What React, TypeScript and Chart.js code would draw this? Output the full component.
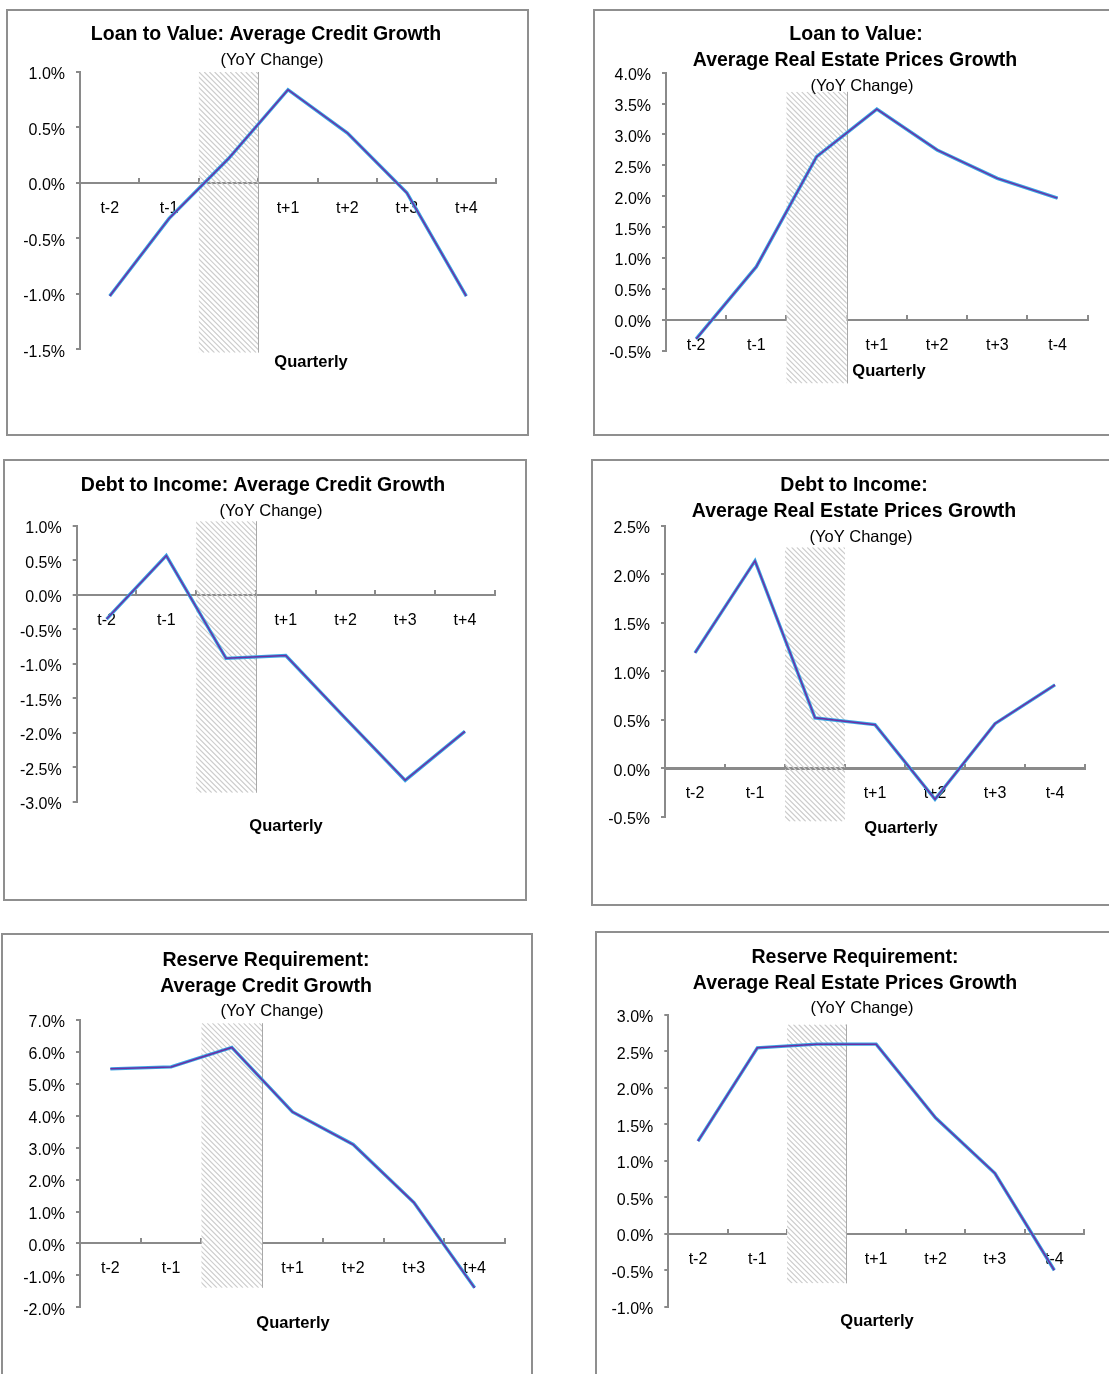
import React, { useEffect, useRef } from "react";
import { Chart, registerables } from "chart.js";

Chart.register(...registerables);

// ---------- data ----------
const labelsPlus = ["t-2", "t-1", "", "t+1", "t+2", "t+3", "t+4"];
const labelsMinus = ["t-2", "t-1", "", "t+1", "t+2", "t+3", "t-4"];

const ltvCredit = [-1.02, -0.32, 0.22, 0.84, 0.45, -0.09, -1.02];
const ltvRealEstate = [-0.31, 0.86, 2.64, 3.41, 2.75, 2.29, 1.97];
const dtiCredit = [-0.35, 0.57, -0.92, -0.88, -1.79, -2.69, -1.98];
const dtiRealEstate = [1.19, 2.14, 0.52, 0.45, -0.32, 0.46, 0.86];
const rrCredit = [5.47, 5.53, 6.14, 4.12, 3.1, 1.28, -1.39];
const rrRealEstate = [1.27, 2.55, 2.6, 2.6, 1.59, 0.83, -0.5];

// y-axis ranges [min, max, step]
const ltvCreditRange = [-1.5, 1.0, 0.5];
const ltvRealEstateRange = [-0.5, 4.0, 0.5];
const dtiCreditRange = [-3.0, 1.0, 0.5];
const dtiRealEstateRange = [-0.5, 2.5, 0.5];
const rrCreditRange = [-2.0, 7.0, 1.0];
const rrRealEstateRange = [-1.0, 3.0, 0.5];

// hatched (policy) window extent in value units [top, bottom]
const ltvCreditHatch = [1.0, -1.53];
const ltvRealEstateHatch = [3.69, -1.03];
const dtiCreditHatch = [1.07, -2.87];
const dtiRealEstateHatch = [2.28, -0.55];
const rrCreditHatch = [6.9, -1.39];
const rrRealEstateHatch = [2.87, -0.68];

const SUB = "(YoY Change)";
const XTITLE = "Quarterly";

const FONT = "'Liberation Sans', Arial, Helvetica, sans-serif";
const AXIS_COLOR = "#8a8a8a";
const Y_W = 60;

type Pt = { text?: string; x: number; y: number };
type Spec = {
  box: [number, number, number, number];
  axis: { left: number; top: number; bottom: number; right: number };
  range: number[];
  labels: string[];
  data: number[];
  titles: Pt[];
  sub: Pt;
  quarterly: Pt;
  hatch: number[];
  hatchOpaque: boolean;
  hatchEdge: boolean;
  xAxisWidth: number;
};

const specs: Spec[] = [
  {
    box: [6, 9, 523, 427],
    axis: { left: 80, top: 72, bottom: 349.3, right: 496 },
    range: ltvCreditRange,
    labels: labelsPlus,
    data: ltvCredit,
    titles: [{ text: "Loan to Value: Average Credit Growth", x: 266, y: 35 }],
    sub: { x: 272, y: 60 },
    quarterly: { x: 311, y: 362 },
    hatch: ltvCreditHatch,
    hatchOpaque: false,
    hatchEdge: true,
    xAxisWidth: 2,
  },
  {
    box: [593, 9, 600, 427],
    axis: { left: 666, top: 72.7, bottom: 350.7, right: 1087.7 },
    range: ltvRealEstateRange,
    labels: labelsMinus,
    data: ltvRealEstate,
    titles: [
      { text: "Loan to Value:", x: 856, y: 35 },
      { text: "Average Real Estate Prices Growth", x: 855, y: 61 },
    ],
    sub: { x: 862, y: 86 },
    quarterly: { x: 889, y: 371 },
    hatch: ltvRealEstateHatch,
    hatchOpaque: true,
    hatchEdge: true,
    xAxisWidth: 2,
  },
  {
    box: [3, 459, 524, 442],
    axis: { left: 76.7, top: 526, bottom: 801.7, right: 494.8 },
    range: dtiCreditRange,
    labels: labelsPlus,
    data: dtiCredit,
    titles: [{ text: "Debt to Income: Average Credit Growth", x: 263, y: 486 }],
    sub: { x: 271, y: 511 },
    quarterly: { x: 286, y: 826 },
    hatch: dtiCreditHatch,
    hatchOpaque: false,
    hatchEdge: true,
    xAxisWidth: 2,
  },
  {
    box: [591, 459, 530, 447],
    axis: { left: 665, top: 526, bottom: 816.7, right: 1085 },
    range: dtiRealEstateRange,
    labels: labelsMinus,
    data: dtiRealEstate,
    titles: [
      { text: "Debt to Income:", x: 854, y: 486 },
      { text: "Average Real Estate Prices Growth", x: 854, y: 512 },
    ],
    sub: { x: 861, y: 537 },
    quarterly: { x: 901, y: 828 },
    hatch: dtiRealEstateHatch,
    hatchOpaque: false,
    hatchEdge: false,
    xAxisWidth: 3,
  },
  {
    box: [1, 933, 532, 460],
    axis: { left: 80, top: 1020, bottom: 1307.3, right: 505 },
    range: rrCreditRange,
    labels: labelsPlus,
    data: rrCredit,
    titles: [
      { text: "Reserve Requirement:", x: 266, y: 961 },
      { text: "Average Credit Growth", x: 266, y: 987 },
    ],
    sub: { x: 272, y: 1011 },
    quarterly: { x: 293, y: 1323 },
    hatch: rrCreditHatch,
    hatchOpaque: true,
    hatchEdge: true,
    xAxisWidth: 2,
  },
  {
    box: [595, 931, 530, 460],
    axis: { left: 668.3, top: 1015, bottom: 1306.7, right: 1084 },
    range: rrRealEstateRange,
    labels: labelsMinus,
    data: rrRealEstate,
    titles: [
      { text: "Reserve Requirement:", x: 855, y: 958 },
      { text: "Average Real Estate Prices Growth", x: 855, y: 984 },
    ],
    sub: { x: 862, y: 1008 },
    quarterly: { x: 877, y: 1321 },
    hatch: rrRealEstateHatch,
    hatchOpaque: true,
    hatchEdge: true,
    xAxisWidth: 2,
  },
];

function makePlugin(spec: Spec) {
  const [px, py] = spec.box;
  return {
    id: "decor",
    beforeDatasetsDraw(chart: any) {
      const ctx = chart.ctx as CanvasRenderingContext2D;
      const xs = chart.scales.x;
      const ys = chart.scales.y;
      const ca = chart.chartArea;
      const w = (ca.right - ca.left) / spec.labels.length;
      const cx = xs.getPixelForValue(2);
      const x0 = cx - w / 2;
      const x1 = cx + w / 2;
      const y0 = ys.getPixelForValue(spec.hatch[0]);
      const y1 = ys.getPixelForValue(spec.hatch[1]);
      ctx.save();
      ctx.beginPath();
      ctx.rect(x0, y0, x1 - x0, y1 - y0);
      ctx.clip();
      if (spec.hatchOpaque) {
        ctx.fillStyle = "#ffffff";
        ctx.fillRect(x0, y0, x1 - x0, y1 - y0);
      }
      ctx.strokeStyle = "#cdcdcd";
      ctx.lineWidth = 1.2;
      const h = y1 - y0;
      ctx.beginPath();
      for (let s = -h; s < x1 - x0 + 2; s += 5.2) {
        ctx.moveTo(x0 + s, y0);
        ctx.lineTo(x0 + s + h, y0 + h);
      }
      ctx.stroke();
      ctx.restore();
      if (spec.hatchEdge) {
        ctx.save();
        ctx.strokeStyle = "#a8a8a8";
        ctx.lineWidth = 1;
        ctx.beginPath();
        ctx.moveTo(Math.round(x1) + 0.5, y0);
        ctx.lineTo(Math.round(x1) + 0.5, y1);
        ctx.stroke();
        ctx.restore();
      }
    },
    afterDraw(chart: any) {
      const ctx = chart.ctx as CanvasRenderingContext2D;
      ctx.save();
      ctx.fillStyle = "#000";
      ctx.textAlign = "center";
      ctx.textBaseline = "middle";
      ctx.font = `bold 19.5px ${FONT}`;
      spec.titles.forEach((t) => ctx.fillText(t.text || "", t.x - px, t.y - py));
      ctx.font = `16.5px ${FONT}`;
      ctx.fillText(SUB, spec.sub.x - px, spec.sub.y - py);
      ctx.font = `bold 16.5px ${FONT}`;
      ctx.fillText(XTITLE, spec.quarterly.x - px, spec.quarterly.y - py);
      ctx.restore();
    },
  };
}

function Panel({ spec }: { spec: Spec }) {
  const ref = useRef<HTMLCanvasElement | null>(null);
  const [px, py, pw, ph] = spec.box;
  useEffect(() => {
    if (!ref.current) return;
    const [min, max, step] = spec.range;
    const chart = new Chart(ref.current, {
      type: "line",
      data: {
        labels: spec.labels,
        datasets: [
          {
            data: spec.data,
            borderColor: "#6b2fa5",
            borderWidth: 1.5,
            pointRadius: 0,
            tension: 0,
            borderJoinStyle: "miter",
            order: 0,
          },
          {
            data: spec.data,
            borderColor: "#38a6e4",
            borderWidth: 3.4,
            pointRadius: 0,
            tension: 0,
            borderJoinStyle: "miter",
            order: 1,
          },
        ],
      },
      options: {
        animation: false,
        responsive: false,
        devicePixelRatio: 1,
        events: [],
        layout: {
          padding: {
            left: spec.axis.left - px - Y_W,
            top: spec.axis.top - py,
            right: px + pw - spec.axis.right,
            bottom: py + ph - spec.axis.bottom,
          },
        },
        plugins: {
          legend: { display: false },
          tooltip: { enabled: false },
          title: { display: false },
        },
        scales: {
          x: {
            type: "category",
            offset: true,
            position: { y: 0 } as any,
            grid: {
              offset: true,
              drawOnChartArea: false,
              drawTicks: true,
              tickLength: -6,
              color: AXIS_COLOR,
              lineWidth: 2,
            },
            border: { display: true, color: AXIS_COLOR, width: spec.xAxisWidth },
            ticks: {
              padding: 22,
              autoSkip: false,
              maxRotation: 0,
              color: "#000",
              font: { family: FONT, size: 16 },
            },
            afterFit: (s: any) => {
              s.height = 0;
              s.paddingLeft = 0;
              s.paddingRight = 0;
            },
          },
          y: {
            type: "linear",
            min,
            max,
            grid: {
              drawOnChartArea: false,
              drawTicks: true,
              tickLength: 4,
              color: AXIS_COLOR,
              lineWidth: 2,
            },
            border: { display: true, color: AXIS_COLOR, width: 2 },
            ticks: {
              stepSize: step,
              padding: 11,
              labelOffset: 3,
              color: "#000",
              font: { family: FONT, size: 16 },
              callback: (v: any) => Number(v).toFixed(1) + "%",
            },
            afterFit: (s: any) => {
              s.width = Y_W;
              s.paddingTop = 0;
              s.paddingBottom = 0;
            },
          },
        },
      },
      plugins: [makePlugin(spec)],
    } as any);
    return () => chart.destroy();
  }, [spec]);

  return (
    <>
      <div
        style={{
          position: "absolute",
          left: px,
          top: py,
          width: pw,
          height: ph,
          border: "2px solid #8f8f8f",
          boxSizing: "border-box",
          background: "#fff",
        }}
      />
      <canvas
        ref={ref}
        width={pw}
        height={ph}
        style={{ position: "absolute", left: px, top: py, width: pw, height: ph }}
      />
    </>
  );
}

export default function App() {
  return (
    <div
      style={{
        position: "absolute",
        left: 0,
        top: 0,
        width: 1109,
        height: 1374,
        overflow: "hidden",
        background: "#fff",
      }}
    >
      {specs.map((s, i) => (
        <Panel key={i} spec={s} />
      ))}
    </div>
  );
}
